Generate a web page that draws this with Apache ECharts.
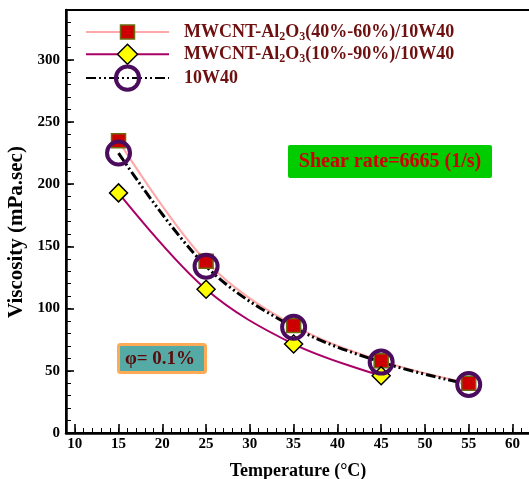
<!DOCTYPE html>
<html>
<head>
<meta charset="utf-8">
<title>Viscosity vs temperature</title>
<script src="https://cdn.jsdelivr.net/npm/echarts@6/dist/echarts.min.js"></script>
<style>
  html, body { margin: 0; padding: 0; background: #fff; }
  #chart { width: 529px; height: 479px; }
</style>
</head>
<body>
<div id="chart"></div>
<script>
// values
var temperature = [15, 25, 35, 45, 55];
var hybrid4060 = [235, 138, 86.5, 58, 40];
var hybrid1090 = [193, 115.5, 71.5, 46];
var baseOil = [225, 134, 85, 57, 39];
var xTicks = [10, 15, 20, 25, 30, 35, 40, 45, 50, 55, 60];
var yTicks = [0, 50, 100, 150, 200, 250, 300];

var name1 = 'MWCNT-Al2O3(40%-60%)/10W40';
var name2 = 'MWCNT-Al2O3(10%-90%)/10W40';
var name3 = '10W40';

function pairs(xs, ys) {
  return ys.map(function (y, i) { return [xs[i], y]; });
}

var serif = 'Liberation Serif';
var tickFont = { fontFamily: serif, fontWeight: 'bold', fontSize: 15, color: '#000' };
var legendText = {
  fontFamily: serif, fontWeight: 'bold', fontSize: 18, color: '#6e1010',
  padding: [0, 0, 0, 10],
  rich: { s: { fontFamily: serif, fontWeight: 'bold', fontSize: 12, color: '#6e1010', padding: [9, 0, 0, 0] } }
};
function legendFmt(n) { return n.replace('Al2O3', 'Al{s|2}O{s|3}'); }

var myChart = echarts.init(document.getElementById('chart'));

var option = {
  backgroundColor: '#fff',
  animation: false,
  grid: {
    left: 66, top: 10, width: 464, height: 423,
    show: true, borderColor: '#000', borderWidth: 2,
    containLabel: false, outerBoundsMode: 'none'
  },
  legend: [
    { data: [name1], left: 85, top: 23, padding: 0, itemWidth: 83, itemHeight: 17.5,
      selectedMode: false, formatter: legendFmt, textStyle: legendText,
      itemStyle: { borderWidth: 1.5 } },
    { data: [name2], left: 85, top: 43.5, padding: 0, itemWidth: 83, itemHeight: 25,
      selectedMode: false, formatter: legendFmt, textStyle: legendText,
      itemStyle: { borderWidth: 1.5 } },
    { data: [name3], left: 85, top: 64.5, padding: 0, itemWidth: 83, itemHeight: 29,
      selectedMode: false, textStyle: legendText,
      itemStyle: { borderWidth: 4 } }
  ],
  xAxis: [
    {
      type: 'value', min: 9, max: 62, position: 'bottom',
      name: 'Temperature (°C)', nameLocation: 'middle', nameGap: 29,
      nameTextStyle: { fontFamily: serif, fontWeight: 'bold', fontSize: 18, color: '#000' },
      axisLine: { lineStyle: { color: '#000', width: 2.5 } },
      axisTick: { inside: true, length: 9, customValues: xTicks, lineStyle: { color: '#000', width: 1.6 } },
      axisLabel: Object.assign({ customValues: xTicks, margin: 4 }, tickFont),
      splitLine: { show: false }
    },
    {
      type: 'value', min: 9, max: 62, interval: 1, position: 'bottom',
      axisLine: { show: false },
      axisTick: { inside: true, length: 5, lineStyle: { color: '#000', width: 1 } },
      axisLabel: { show: false },
      splitLine: { show: false }
    }
  ],
  yAxis: [
    {
      type: 'value', min: 0, max: 340, position: 'left',
      name: 'Viscosity (mPa.sec)', nameLocation: 'middle', nameGap: 39,
      nameTextStyle: { fontFamily: serif, fontWeight: 'bold', fontSize: 21, color: '#000', padding: [0, 21, 0, 0] },
      axisLine: { lineStyle: { color: '#000', width: 2.5 } },
      axisTick: { inside: true, length: 8, customValues: yTicks, lineStyle: { color: '#000', width: 1.6 } },
      axisLabel: Object.assign({ customValues: yTicks, margin: 6 }, tickFont),
      splitLine: { show: false }
    },
    {
      type: 'value', min: 0, max: 340, interval: 10, position: 'left',
      axisLine: { show: false },
      axisTick: { inside: true, length: 5, lineStyle: { color: '#000', width: 1 } },
      axisLabel: { show: false },
      splitLine: { show: false }
    }
  ],
  series: [
    {
      name: name1, type: 'line', smooth: 0.35,
      data: pairs(temperature, hybrid4060),
      symbol: 'rect', symbolSize: 14,
      lineStyle: { color: '#ffa8a8', width: 2 },
      itemStyle: { color: '#cc0000', borderColor: '#6b6b10', borderWidth: 1.5 }
    },
    {
      name: name2, type: 'line', smooth: 0.35,
      data: pairs(temperature, hybrid1090),
      symbol: 'diamond', symbolSize: 18,
      lineStyle: { color: '#aa0066', width: 2 },
      itemStyle: { color: '#ffff00', borderColor: '#000', borderWidth: 1.5 }
    },
    {
      name: name3, type: 'line', smooth: 0.35,
      data: pairs(temperature, baseOil),
      symbol: 'circle', symbolSize: 23,
      lineStyle: { color: '#000', width: 3, type: [10, 3, 2, 3, 2, 3] },
      itemStyle: { color: 'rgba(255,255,255,0)', borderColor: '#4b0c5e', borderWidth: 4 }
    }
  ],
  graphic: [
    { type: 'rect', shape: { x: 288, y: 145, width: 204, height: 33, r: 2 },
      style: { fill: '#00cc00' } },
    { type: 'text', x: 390, y: 162,
      style: { text: 'Shear rate=6665 (1/s)', fill: '#d00000', font: 'bold 20px "Liberation Serif"',
               align: 'center', verticalAlign: 'middle' } },
    { type: 'rect', shape: { x: 118.5, y: 344.5, width: 87, height: 28, r: 2 },
      style: { fill: '#55aaa6', stroke: '#ffaa55', lineWidth: 3 } },
    { type: 'text', x: 160, y: 359,
      style: { text: 'φ= 0.1%', fill: '#5a0a0a', font: 'bold 19px "Liberation Serif"',
               align: 'center', verticalAlign: 'middle' } }
  ]
};

myChart.setOption(option);
</script>
</body>
</html>
